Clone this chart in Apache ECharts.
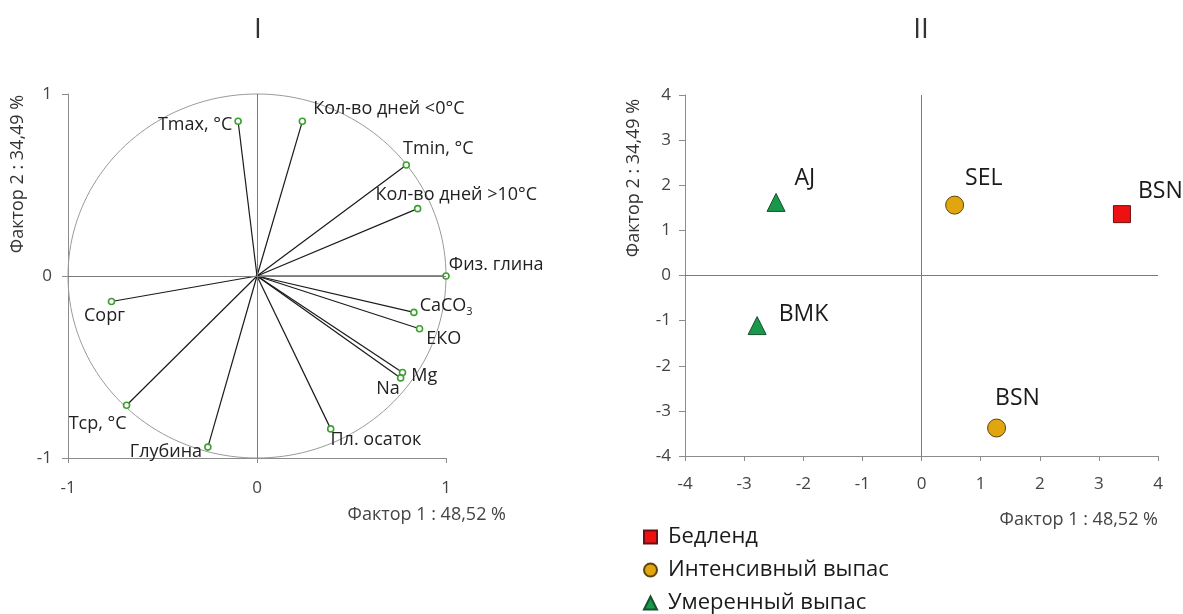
<!DOCTYPE html>
<html><head><meta charset="utf-8">
<script src="https://cdn.jsdelivr.net/npm/echarts@6/dist/echarts.min.js"></script>
<style>html,body{margin:0;padding:0;background:#fff}#c{width:1183px;height:614px}</style>
</head><body><div id="c"></div>
<script>
// ---- Panel I: factor loadings ----
const variableNames = ['Tmax, °C','Кол-во дней <0°C','Tmin, °C','Кол-во дней >10°C','Физ. глина','CaCO3','ЕКО','Mg','Na','Пл. осаток','Сорг','Tср, °C','Глубина'];
const factor1Loadings = [-0.10, 0.24, 0.79, 0.85, 1.00, 0.83, 0.86, 0.77, 0.76, 0.39, -0.77, -0.69, -0.26];
const factor2Loadings = [0.85, 0.85, 0.61, 0.37, 0.00, -0.20, -0.29, -0.53, -0.56, -0.84, -0.14, -0.71, -0.94];
const loadingTicks = [-1, 0, 1];

// ---- Panel II: factor scores ----
const groupNames = ['Бедленд', 'Интенсивный выпас', 'Умеренный выпас'];
const badlandSites = ['BSN'];
const badlandF1 = [3.39];
const badlandF2 = [1.36];
const intensiveSites = ['SEL', 'BSN'];
const intensiveF1 = [0.56, 1.27];
const intensiveF2 = [1.56, -3.38];
const moderateSites = ['AJ', 'BMK'];
const moderateF1 = [-2.46, -2.78];
const moderateF2 = [1.62, -1.11];
const scoreTicks = [-4, -3, -2, -1, 0, 1, 2, 3, 4];

const axisTitle1 = 'Фактор 1 : 48,52 %';
const axisTitle2 = 'Фактор 2 : 34,49 %';

// ---- styles (label placement) ----
const FONT = 'Open Sans';
const loadingLabelStyle = {
  'Tmax, °C': {position: 'left', distance: 2, offset: [0, 4]},
  'Кол-во дней <0°C': {position: 'right', offset: [2, -12]},
  'Tmin, °C': {position: 'right', offset: [-12, -16]},
  'Кол-во дней >10°C': {position: 'right', offset: [-51, -14]},
  'Физ. глина': {position: 'right', offset: [-6, -11]},
  'CaCO3': {position: 'right', offset: [-3, -7]},
  'ЕКО': {position: 'right', offset: [-2, 10]},
  'Mg': {position: 'right', offset: [0, 3]},
  'Na': {position: 'left', offset: [8, 11]},
  'Пл. осаток': {position: 'right', offset: [-9, 11]},
  'Сорг': {position: 'bottom', offset: [-7, -3]},
  'Tср, °C': {position: 'bottom', offset: [-29, 1]},
  'Глубина': {position: 'left', offset: [3, 5]}
};
const scoreLabelStyle = {
  'Бедленд|BSN': [2, -23],
  'Интенсивный выпас|SEL': [-4, -27],
  'Интенсивный выпас|BSN': [-16, -30],
  'Умеренный выпас|AJ': [4, -24],
  'Умеренный выпас|BMK': [7, -11]
};

const loadingPoints = variableNames.map((n, i) => {
  const ls = loadingLabelStyle[n];
  return {
    name: n,
    value: [factor1Loadings[i], factor2Loadings[i]],
    label: Object.assign({show: true}, ls)
  };
});

function scorePoints(group, names, xs, ys) {
  return names.map((n, i) => ({
    name: n,
    value: [xs[i], ys[i]],
    label: {show: true, position: 'right', offset: scoreLabelStyle[group + '|' + n]}
  }));
}

const axisLineStyle = {color: '#8c8c8c', width: 1};
const tickLabel = {color: '#444', fontSize: 17, fontFamily: FONT};

const crossLine = {
  silent: true, symbol: 'none', label: {show: false},
  lineStyle: {color: '#7a7a7a', width: 1, type: 'solid'},
  data: [{xAxis: 0}, {yAxis: 0}]
};

const option = {
  animation: false,
  backgroundColor: '#fff',
  textStyle: {fontFamily: FONT},
  grid: [
    {left: 68, top: 94, width: 378, height: 364},
    {left: 685, top: 95, width: 473, height: 361}
  ],
  xAxis: [
    {gridIndex: 0, type: 'value', min: loadingTicks[0], max: loadingTicks[loadingTicks.length - 1], interval: 1,
     axisLine: {show: true, onZero: false, lineStyle: axisLineStyle},
     axisTick: {show: true, length: 5, lineStyle: axisLineStyle},
     splitLine: {show: false}, axisLabel: Object.assign({margin: 22}, tickLabel)},
    {gridIndex: 1, type: 'value', min: scoreTicks[0], max: scoreTicks[scoreTicks.length - 1], interval: 1,
     axisLine: {show: true, onZero: false, lineStyle: axisLineStyle},
     axisTick: {show: true, length: 5, lineStyle: axisLineStyle},
     splitLine: {show: false}, axisLabel: Object.assign({margin: 20}, tickLabel)}
  ],
  yAxis: [
    {gridIndex: 0, type: 'value', min: loadingTicks[0], max: loadingTicks[loadingTicks.length - 1], interval: 1,
     axisLine: {show: true, onZero: false, lineStyle: axisLineStyle},
     axisTick: {show: true, length: 6, lineStyle: axisLineStyle},
     splitLine: {show: false}, axisLabel: Object.assign({margin: 16}, tickLabel)},
    {gridIndex: 1, type: 'value', min: scoreTicks[0], max: scoreTicks[scoreTicks.length - 1], interval: 1,
     axisLine: {show: true, onZero: false, lineStyle: axisLineStyle},
     axisTick: {show: true, length: 6, lineStyle: axisLineStyle},
     splitLine: {show: false}, axisLabel: Object.assign({margin: 14}, tickLabel)}
  ],
  legend: {
    orient: 'vertical', left: 643, top: 526, height: 100, padding: 0, itemGap: 11,
    itemWidth: 13, itemHeight: 13,
    textStyle: {fontSize: 22, lineHeight: 22, color: '#1a1a1a', fontFamily: FONT, padding: [0, 0, 0, 6]},
    data: groupNames
  },
  graphic: [
    {type: 'text', x: 258, y: 30, style: {text: 'I', align: 'center', verticalAlign: 'middle', fontSize: 28, fontFamily: FONT, fill: '#333'}},
    {type: 'text', x: 921, y: 30, style: {text: 'II', align: 'center', verticalAlign: 'middle', fontSize: 28, fontFamily: FONT, fill: '#333'}},
    {type: 'text', x: 18, y: 174, rotation: Math.PI / 2, style: {text: axisTitle2, align: 'center', verticalAlign: 'middle', fontSize: 18, fontFamily: FONT, fill: '#333'}},
    {type: 'text', x: 634, y: 178, rotation: Math.PI / 2, style: {text: axisTitle2, align: 'center', verticalAlign: 'middle', fontSize: 18, fontFamily: FONT, fill: '#333'}},
    {type: 'text', x: 506, y: 515, style: {text: axisTitle1, align: 'right', verticalAlign: 'middle', fontSize: 18, fontFamily: FONT, fill: '#444'}},
    {type: 'text', x: 1158, y: 520, style: {text: axisTitle1, align: 'right', verticalAlign: 'middle', fontSize: 18, fontFamily: FONT, fill: '#444'}}
  ],
  series: [
    // unit circle (reference geometry)
    {type: 'custom', xAxisIndex: 0, yAxisIndex: 0, silent: true, clip: false,
     data: [[0, 0, 1]],
     renderItem: function (params, api) {
       const r = api.value(2);
       const pts = [];
       for (let k = 0; k <= 360; k += 2) {
         const t = k * Math.PI / 180;
         pts.push(api.coord([api.value(0) + r * Math.cos(t), api.value(1) + r * Math.sin(t)]));
       }
       return {type: 'polyline', shape: {points: pts}, style: {stroke: '#9a9a9a', lineWidth: 1, fill: null}};
     },
     markLine: crossLine},
    // loading vectors
    {type: 'custom', xAxisIndex: 0, yAxisIndex: 0, silent: true, clip: false,
     data: variableNames.map((n, i) => [factor1Loadings[i], factor2Loadings[i]]),
     renderItem: function (params, api) {
       const p0 = api.coord([0, 0]);
       const p1 = api.coord([api.value(0), api.value(1)]);
       return {type: 'line', shape: {x1: p0[0], y1: p0[1], x2: p1[0], y2: p1[1]}, style: {stroke: '#1a1a1a', lineWidth: 1.2}};
     }},
    // loading end markers + labels
    {type: 'scatter', xAxisIndex: 0, yAxisIndex: 0, symbol: 'circle', symbolSize: 6,
     itemStyle: {color: '#ffffff', borderColor: '#3f9f32', borderWidth: 1.6, opacity: 1},
     label: {color: '#222', fontSize: 18, fontFamily: FONT,
       formatter: p => p.name === 'CaCO3' ? 'CaCO{s|3}' : p.name,
       rich: {s: {fontSize: 11, verticalAlign: 'bottom', padding: [12, 0, 0, 0], color: '#222', fontFamily: FONT}}},
     data: loadingPoints},
    // Panel II
    {name: groupNames[0], type: 'scatter', xAxisIndex: 1, yAxisIndex: 1, symbol: 'rect', symbolSize: 17,
     itemStyle: {color: '#ee1111', borderColor: '#6a1010', borderWidth: 1, opacity: 1},
     label: {color: '#1a1a1a', fontSize: 23, fontFamily: FONT, formatter: p => p.name},
     data: scorePoints(groupNames[0], badlandSites, badlandF1, badlandF2),
     markLine: crossLine},
    {name: groupNames[1], type: 'scatter', xAxisIndex: 1, yAxisIndex: 1, symbol: 'circle', symbolSize: 18,
     itemStyle: {color: '#e1a510', borderColor: '#5e460c', borderWidth: 1, opacity: 1},
     label: {color: '#1a1a1a', fontSize: 23, fontFamily: FONT, formatter: p => p.name},
     data: scorePoints(groupNames[1], intensiveSites, intensiveF1, intensiveF2)},
    {name: groupNames[2], type: 'scatter', xAxisIndex: 1, yAxisIndex: 1, symbol: 'triangle', symbolSize: 18,
     itemStyle: {color: '#17984a', borderColor: '#16512e', borderWidth: 1, opacity: 1},
     label: {color: '#1a1a1a', fontSize: 23, fontFamily: FONT, formatter: p => p.name},
     data: scorePoints(groupNames[2], moderateSites, moderateF1, moderateF2)}
  ]
};

const chart = echarts.init(document.getElementById('c'), null, {renderer: 'canvas'});
chart.setOption(option);
</script>
</body></html>
